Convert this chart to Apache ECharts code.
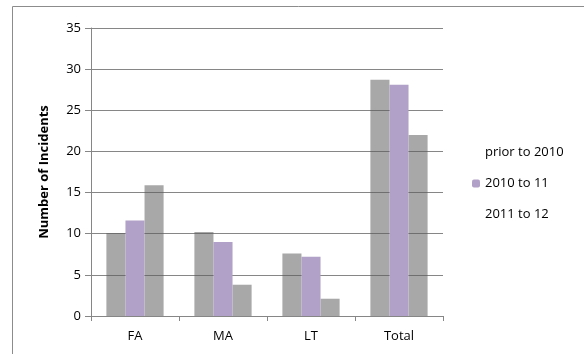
<!DOCTYPE html>
<html><head><meta charset="utf-8">
<script src="https://cdn.jsdelivr.net/npm/echarts@6/dist/echarts.min.js"></script>
<style>html,body{margin:0;padding:0;background:#fff}#c{width:584px;height:354px}</style>
</head><body><div id="c"></div>
<script>
const categories = ['FA', 'MA', 'LT', 'Total'];
const seriesNames = ['prior to 2010', '2010 to 11', '2011 to 12'];
const priorTo2010 = [10.1, 10.2, 7.6, 28.7];
const y2010to11 = [11.6, 9.0, 7.2, 28.1];
const y2011to12 = [15.9, 3.8, 2.1, 22.0];
const yAxisTitle = 'Number of Incidents';

const chart = echarts.init(document.getElementById('c'));
const font = '"Open Sans", sans-serif';
const grayStyle = {color: 'rgba(90,90,90,0.53)'};
chart.setOption({
  animation: false,
  graphic: [{type: 'rect', shape: {x: 12.5, y: 6.5, width: 700, height: 500}, style: {fill: 'none', stroke: '#8c8c8c', lineWidth: 1}, z: -10}],
  grid: {left: 91, right: 141, top: 28, bottom: 38},
  legend: {
    orient: 'vertical', left: 472, top: 146, padding: 0, itemGap: 18, itemWidth: 8, itemHeight: 8,
    textStyle: {fontFamily: font, fontSize: 13, color: '#000'},
    data: [
      {name: seriesNames[0], itemStyle: {opacity: 0}},
      {name: seriesNames[1]},
      {name: seriesNames[2], itemStyle: {opacity: 0}}
    ]
  },
  xAxis: {
    type: 'category', data: categories,
    axisLine: {lineStyle: {color: '#868686'}},
    axisTick: {show: true, length: 5, lineStyle: {color: '#868686'}},
    axisLabel: {fontFamily: font, fontSize: 13, color: '#000', margin: 14}
  },
  yAxis: {
    type: 'value', min: 0, max: 35, interval: 5,
    name: yAxisTitle, nameLocation: 'middle', nameGap: 40,
    nameTextStyle: {fontFamily: font, fontSize: 13, fontWeight: 'bold', color: '#000'},
    axisLine: {show: true, lineStyle: {color: '#868686'}},
    axisTick: {show: true, length: 6, lineStyle: {color: '#868686'}},
    axisLabel: {fontFamily: font, fontSize: 13, color: '#000', margin: 10},
    splitLine: {lineStyle: {color: '#868686'}}
  },
  series: [
    {name: seriesNames[0], type: 'bar', data: priorTo2010, barGap: '0%', barCategoryGap: '35%', itemStyle: grayStyle, z: 3},
    {name: seriesNames[1], type: 'bar', data: y2010to11, itemStyle: {color: '#b1a0c7'}, z: 4},
    {name: seriesNames[2], type: 'bar', data: y2011to12, itemStyle: grayStyle, z: 3}
  ]
});
</script></body></html>
